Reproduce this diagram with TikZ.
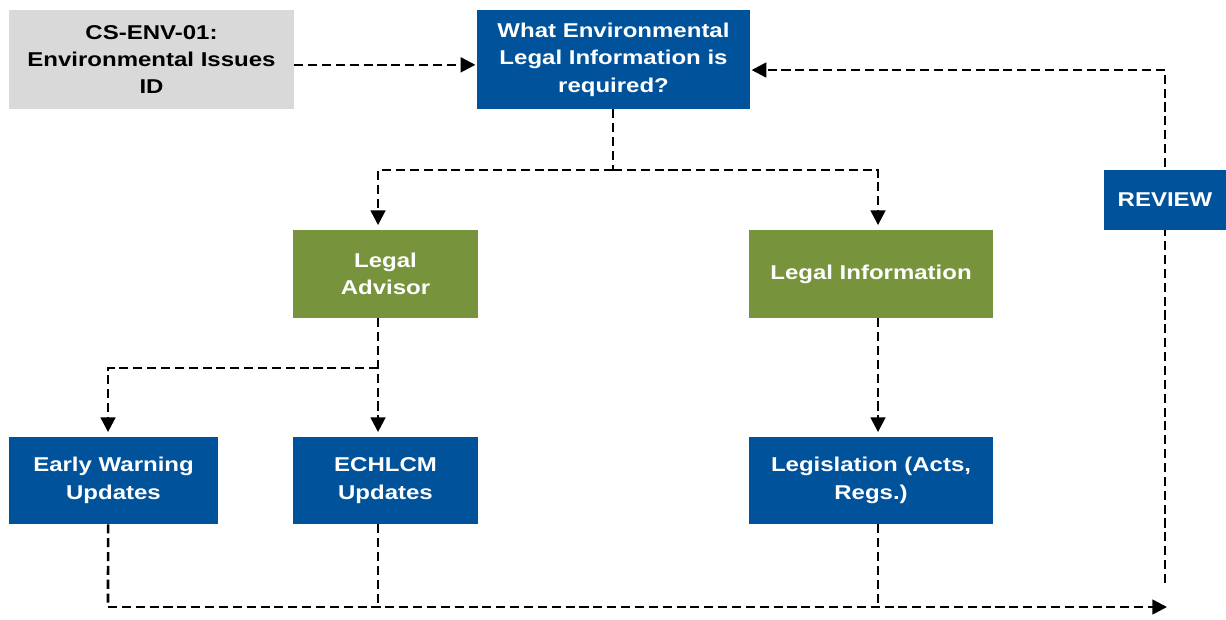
\documentclass[tikz,border=0pt]{standalone}
\usepackage{fontspec}
\setmainfont{Liberation Sans}[FakeStretch=1.2]
\usetikzlibrary{arrows.meta,backgrounds}
\definecolor{boxblue}{RGB}{0,82,155}
\definecolor{boxgreen}{RGB}{119,147,60}
\definecolor{boxgrey}{RGB}{217,217,217}
\begin{document}
\begin{tikzpicture}[x=0.75pt,y=-0.75pt,
  box/.style={rectangle,inner sep=0pt,align=center,text=white,
    font=\fontsize{15}{20.6}\selectfont\bfseries},
  bluebox/.style={box,fill=boxblue},
  greenbox/.style={box,fill=boxgreen},
  greybox/.style={box,fill=boxgrey,text=black},
  dline/.style={draw=black,line width=1.9pt,dash pattern=on 6.8pt off 3.6pt},
  flow/.style={dline,-{Triangle[length=11pt,width=11pt]}},
  flowgap/.style={flow,shorten >=3.5pt},
  flowside/.style={flow,shorten >=1pt}]
\useasboundingbox (0,0) rectangle (1226,619);

% boxes
\node[greybox,minimum width=213.75pt,minimum height=74.25pt] (cs) at (151.5,59.5)
  {CS-ENV-01:\\Environmental Issues\\ID};
\node[bluebox,minimum width=204.75pt,minimum height=74.25pt] (top) at (613.5,59.5)
  {What Environmental\\Legal Information is\\required?};
\node[bluebox,minimum width=91.5pt,minimum height=45pt] (review) at (1165,200) {REVIEW};
\node[greenbox,minimum width=138.75pt,minimum height=66pt] (adv) at (385.5,274) {Legal\\Advisor};
\node[greenbox,minimum width=183pt,minimum height=66pt] (info) at (871,274) {Legal Information};
\node[bluebox,minimum width=156.75pt,minimum height=65.25pt] (early) at (113.5,480.5)
  {Early Warning\\Updates};
\node[bluebox,minimum width=138.75pt,minimum height=65.25pt] (ech) at (385.5,480.5)
  {ECHLCM\\Updates};
\node[bluebox,minimum width=183pt,minimum height=65.25pt] (legis) at (871,480.5)
  {Legislation (Acts,\\Regs.)};

% junction points of the dashed connectors
\coordinate (split) at (613,170);
\coordinate (asplit) at (378,368);
\coordinate (busL) at (108,607);
\coordinate (busR) at (1167,607);
\coordinate (loopS) at (1165,583);

\begin{pgfonlayer}{background}
  \draw[flowside] ([yshift=-4pt]cs.east) -- ([yshift=-4pt]top.west);
  \draw[dline] (top.south -| split) -- (split);
  \draw[flowgap] (split) -| ([xshift=-5.6pt]adv.north);
  \draw[flowgap] (split) -| ([xshift=5.25pt]info.north);
  \draw[flowgap] ([xshift=-5.6pt]adv.south) -- ([xshift=-5.6pt]ech.north);
  \draw[flowgap] (asplit) -| ([xshift=-4.1pt]early.north);
  \draw[flowgap] ([xshift=5.25pt]info.south) -- ([xshift=5.25pt]legis.north);
  \draw[dline] ([xshift=-4.1pt]early.south) -- (busL);
  \draw[dline] ([xshift=-5.6pt]ech.south) -- ([xshift=-5.6pt]ech.south |- busL);
  \draw[dline] ([xshift=5.25pt]legis.south) -- ([xshift=5.25pt]legis.south |- busL);
  \draw[flow] (busL) -- (busR);
  \draw[flowside] (loopS) |- ([yshift=-7.9pt]top.east);
\end{pgfonlayer}
\end{tikzpicture}
\end{document}
